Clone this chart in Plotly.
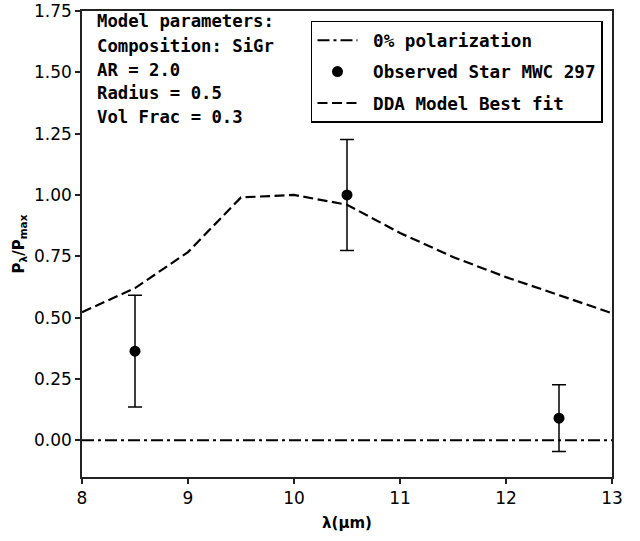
import plotly.graph_objects as go

# Model curve
model_x = [8.0, 8.5, 9.0, 9.5, 10.0, 10.5, 11.0, 11.5, 12.0, 12.5, 13.0]
model_y = [0.522, 0.62, 0.767, 0.99, 1.0, 0.96, 0.845, 0.747, 0.665, 0.59, 0.518]

# Observations
obs_x = [8.5, 10.5, 12.5]
obs_y = [0.363, 1.0, 0.09]
obs_err = [0.228, 0.226, 0.136]

# Zero line
zero_x = [8, 13]
zero_y = [0, 0]

param_lines = ["Model parameters:", "Composition: SiGr", "AR = 2.0",
               "Radius = 0.5", "Vol Frac = 0.3"]

mono = "DejaVu Sans Mono"
pad = "\u00a0"

fig = go.Figure()
fig.add_trace(go.Scatter(x=zero_x, y=zero_y, mode="lines", name=pad + "<b>0% polarization</b>",
                         legendgroup="a",
                         line=dict(color="black", width=2, dash="12px,4px,3px,4px")))
fig.add_trace(go.Scatter(x=obs_x, y=obs_y, mode="markers", showlegend=False,
                         marker=dict(color="black", size=1, opacity=0),
                         error_y=dict(type="data", array=obs_err, color="black",
                                      thickness=1.5, width=7)))
fig.add_trace(go.Scatter(x=obs_x, y=obs_y, mode="markers", name=pad + "<b>Observed Star MWC 297</b>",
                         legendgroup="b",
                         marker=dict(color="black", size=11, symbol="circle")))
fig.add_trace(go.Scatter(x=model_x, y=model_y, mode="lines", name=pad + "<b>DDA Model Best fit</b>",
                         legendgroup="c",
                         line=dict(color="black", width=2.2, dash="10px,4.5px")))

plot_top, plot_bottom = 11, 477
centers = [21, 46, 70, 93, 117]
for txt, cy in zip(param_lines, centers):
    fig.add_annotation(text="<b>" + txt + "</b>", xref="paper", yref="paper",
                       x=0.025, y=(plot_bottom - cy) / (plot_bottom - plot_top),
                       xanchor="left", yanchor="middle", showarrow=False,
                       font=dict(family=mono, size=17.3, color="black"))

axis_common = dict(showline=True, linecolor="#222", linewidth=1.5, mirror=True,
                   ticks="outside", ticklen=5, tickwidth=1.5, tickcolor="#222",
                   showgrid=False, zeroline=False, automargin=False,
                   ticklabeloverflow="allow",
                   tickfont=dict(family="DejaVu Sans", size=17, color="black"))

fig.update_layout(
    width=640, height=541,
    margin=dict(l=82, r=28, t=11, b=64),
    paper_bgcolor="white", plot_bgcolor="white",
    xaxis=dict(range=[8, 13], tickvals=[8, 9, 10, 11, 12, 13],
               title=dict(text="<b>λ(μm)</b>", font=dict(family="DejaVu Sans", size=15, color="black"),
                          standoff=10),
               **axis_common),
    yaxis=dict(range=[-0.15, 1.75], tickvals=[0, 0.25, 0.5, 0.75, 1.0, 1.25, 1.5, 1.75],
               tickformat=".2f",
               title=dict(text="<b>P<sub>λ</sub>/P<sub>max</sub></b>",
                          font=dict(family="DejaVu Sans", size=15, color="black"), standoff=6),
               **axis_common),
    legend=dict(x=0.983, y=0.979, xanchor="right", yanchor="top",
                bordercolor="black", borderwidth=1.5, bgcolor="white",
                font=dict(family=mono, size=17.6, color="black"),
                tracegroupgap=5.5, itemwidth=40),
    showlegend=True,
)

fig.write_html("out.html", config={"displayModeBar": False},
               post_script="document.body.style.margin='0';")
